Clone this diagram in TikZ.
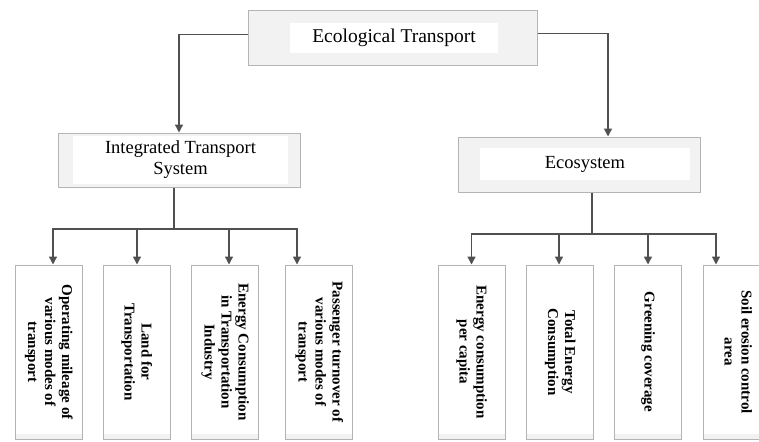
\documentclass[tikz,border=0pt]{standalone}
\usepackage{fontspec}
\setmainfont{Liberation Serif}
\usepackage{graphicx}
\usetikzlibrary{arrows.meta}
\definecolor{linegray}{RGB}{80,80,80}
\definecolor{framegray}{RGB}{180,180,180}
\definecolor{panelgray}{RGB}{242,242,242}
\newcommand{\vlabel}[1]{\rotatebox{-90}{\begin{tabular}{@{}c@{}}#1\end{tabular}}}

\begin{document}
\begin{tikzpicture}[x=1pt, y=-1pt,
  frame/.style={draw=framegray, fill=panelgray, line width=1pt, inner sep=0pt},
  panel/.style={fill=white, inner sep=0pt, align=center, font=\fontsize{18.5}{21}\selectfont},
  leaf/.style={draw=framegray, fill=white, line width=1pt, minimum width=67pt, minimum height=174pt,
    inner sep=0pt, font=\fontsize{15}{17}\selectfont\bfseries,
    path picture={\fill[panelgray] (path picture bounding box.south west) rectangle ([yshift=5pt]path picture bounding box.south east);}},
  link/.style={draw=linegray, line width=1.3pt},
  arr/.style={link, -{Triangle[length=8pt,width=8pt]}}]
  \useasboundingbox (0,0) rectangle (759,441);
  \clip (0,0) rectangle (759,441);

  % Root
  \node[frame, minimum width=289pt, minimum height=55pt] (top) at (392.5,38.5) {};
  \node[panel, minimum width=208pt, minimum height=30pt, font=\fontsize{19.5}{22}\selectfont] (topin) at (394,38) {Ecological Transport};

  % Second level
  \node[frame, minimum width=242pt, minimum height=54pt] (its) at (179,160) {};
  \node[panel, minimum width=215pt, minimum height=48pt] (itsin) at (180.5,160) {Integrated Transport\\System};
  \node[frame, minimum width=242pt, minimum height=55pt] (eco) at (579,164.5) {};
  \node[panel, minimum width=210pt, minimum height=32pt] (ecoin) at (585,164) {Ecosystem};

  \draw[arr] ([yshift=4pt]top.west) -| (its.north);
  \draw[arr] ([yshift=5pt]top.east) -| ([xshift=29pt]eco.north);

  % Transport indicators
  \node[leaf] (b1) at (48.5,352) {\vlabel{Operating mileage of\\various modes of\\transport}};
  \node[leaf] (b2) at (136.5,352) {\vlabel{Land for\\Transportation}};
  \node[leaf] (b3) at (225,352) {\vlabel{Energy Consumption\\in Transportation\\Industry}};
  \node[leaf] (b4) at (319,352) {\vlabel{Passenger turnover of\\various modes of\\transport}};

  \coordinate (lbus) at (174,229);
  \draw[link] ([xshift=-5pt]its.south) -- (lbus);
  \foreach \n/\dx in {b1/4.5, b2/0.5, b3/4, b4/-22}
    \draw[arr] (lbus) -| ([xshift=\dx pt]\n.north);

  % Ecosystem indicators
  \node[leaf] (r1) at (471.5,352) {\vlabel{Energy consumption\\per capita}};
  \node[leaf] (r2) at (560,352) {\vlabel{Total Energy\\Consumption}};
  \node[leaf] (r3) at (648,352) {\vlabel{Greening coverage}};
  \node[leaf] (r4) at (736.5,352) {\vlabel{Soil erosion control\\area}};

  \coordinate (rbus) at (592,234);
  \draw[link] ([xshift=13pt]eco.south) -- (rbus);
  \foreach \n/\dx in {r1/0, r2/-1, r3/0, r4/-20.5}
    \draw[arr] (rbus) -| ([xshift=\dx pt]\n.north);
\end{tikzpicture}
\end{document}
